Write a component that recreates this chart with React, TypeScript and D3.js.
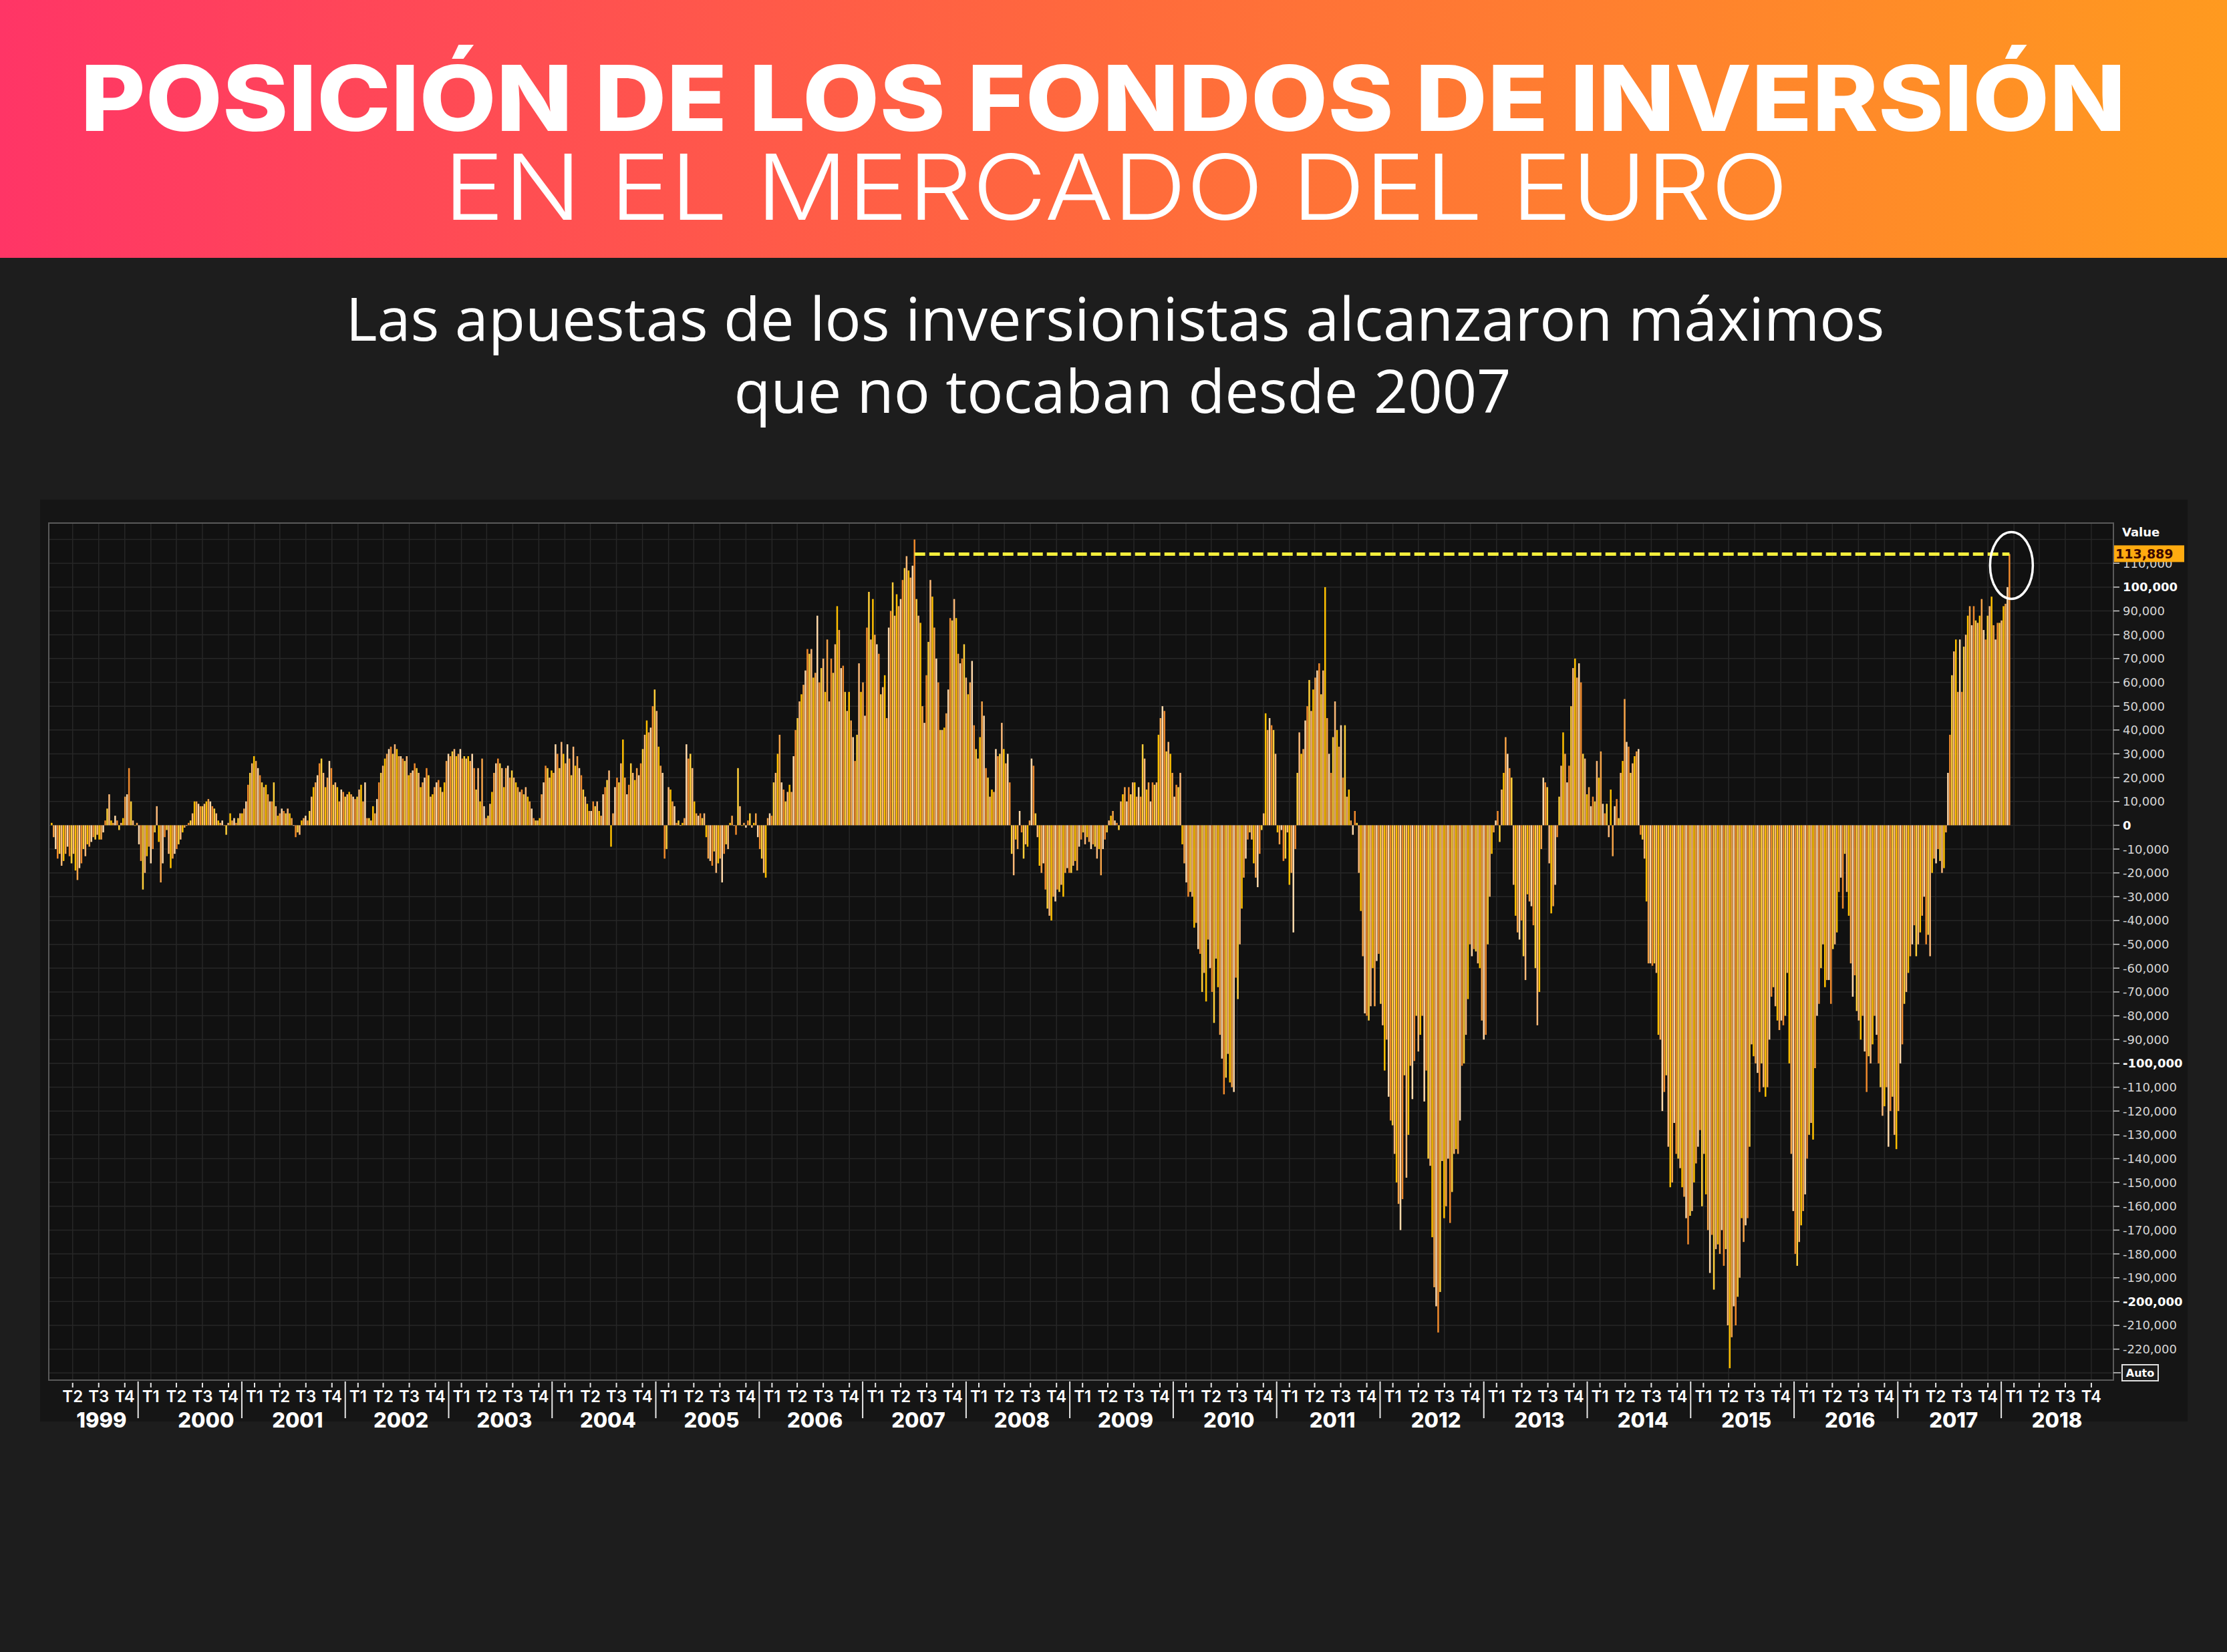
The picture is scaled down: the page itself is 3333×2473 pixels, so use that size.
import React from "react";
import * as d3 from "d3";

const W = 3333;
const H = 2473;

// weekly net positions, thousands of contracts (one value per Tuesday)
const v1999 = [1, -5, -10, -14, -12, -17, -15, -12, -9, -13, -16, -12, -19, -23, -18, -16, -10, -13, -8, -9, -7, -5, -6, -4, -6, -6, -3, 2, 7, 13, 2, 1, 4, 2, -2, 1, 3, 12, 13, 24, 10, 2, 0, 1];
const v2000 = [-8, -15, -27, -20, -13, -9, -16, -10, -3, 8, -7, -24, -16, -5, -2, -12, -18, -14, -12, -10, -8, -6, -3, -1, 0, 1, 2, 5, 10, 10, 9, 8, 8, 9, 10, 11, 10, 8, 7, 5, 2, 1, 2, 0, -4, 1, 5, 2, 3, 1, 3, 5];
const v2001 = [5, 7, 10, 17, 22, 26, 29, 27, 24, 21, 18, 16, 17, 13, 10, 10, 18, 8, 4, 5, 7, 6, 5, 7, 5, 3, 0, -5, -3, -4, 2, 3, 4, 2, 6, 12, 16, 18, 21, 26, 28, 22, 16, 20, 27, 24, 17, 18, 16, 10, 15, 14];
const v2002 = [12, 13, 14, 13, 12, 11, 12, 15, 17, 10, 18, 3, 3, 2, 8, 5, 11, 18, 22, 25, 28, 30, 32, 33, 30, 34, 32, 29, 29, 28, 27, 29, 21, 22, 23, 26, 24, 22, 16, 18, 20, 24, 21, 12, 13, 16, 18, 19, 16, 14, 18, 27, 30];
const v2003 = [29, 31, 32, 29, 30, 32, 28, 29, 28, 29, 27, 30, 24, 15, 24, 10, 28, 8, 3, 4, 9, 14, 22, 26, 28, 26, 24, 16, 24, 25, 20, 23, 20, 18, 16, 14, 15, 13, 16, 12, 10, 7, 3, 2, 2, 3, 13, 18, 25, 24, 20, 23];
const v2004 = [22, 34, 30, 24, 35, 30, 26, 34, 28, 21, 33, 25, 29, 24, 21, 15, 12, 9, 6, 6, 10, 8, 10, 6, 4, 13, 16, 19, 23, -9, 5, 16, 20, 18, 26, 36, 20, 13, 17, 26, 22, 19, 24, 21, 26, 32, 38, 44, 39, 41, 50, 57];
const v2005 = [48, 33, 25, 22, -14, -10, 16, 15, 10, 8, 1, 2, 0, 1, 3, 34, 28, 30, 24, 10, 5, 4, 5, 3, 5, -5, -14, -15, -17, -11, -20, -16, -14, -24, -12, -8, -10, 1, 4, 0, -4, 24, 8, 0, 1, -1, 2, 5, -1, 1, 5, -5];
const v2006 = [-10, -14, -20, -22, 3, 5, 4, 18, 22, 30, 38, 18, 15, 10, 14, 17, 14, 29, 40, 45, 52, 55, 59, 65, 74, 72, 74, 62, 64, 88, 60, 66, 70, 56, 78, 52, 70, 64, 76, 92, 82, 66, 67, 56, 48, 56, 44, 37, 27, 38, 68, 56];
const v2007 = [60, 46, 83, 98, 78, 95, 80, 76, 72, 55, 58, 63, 45, 83, 90, 102, 88, 97, 92, 95, 103, 108, 113, 107, 104, 109, 120, 95, 88, 85, 50, 43, 63, 77, 103, 96, 83, 70, 60, 40, 40, 41, 47, 57, 87, 86, 95, 87, 72, 68, 70, 76];
const v2008 = [62, 55, 60, 69, 42, 32, 28, 37, 52, 46, 24, 20, 12, 15, 14, 32, 29, 30, 43, 32, 26, 30, 18, -12, -21, -6, -10, 6, -3, -14, -8, -9, 2, 28, 25, 5, -5, -17, -20, -16, -27, -35, -38, -40, -30, -32, -27, -28, -25, -30, -20, -18, -20];
const v2009 = [-20, -17, -15, -19, -9, -6, -3, -8, -5, -7, -10, -8, -9, -14, -10, -21, -10, -6, -3, 2, 4, 6, 2, 1, -2, 10, 13, 16, 10, 16, 13, 18, 18, 12, 16, 12, 34, 28, 15, 18, 10, 18, 17, 18, 38, 45, 50, 48, 31, 35, 30, 22];
const v2010 = [12, 17, 16, 22, -8, -16, -24, -30, -28, -30, -43, -41, -52, -54, -70, -62, -74, -48, -60, -70, -83, -56, -68, -88, -98, -113, -106, -96, -108, -110, -112, -64, -73, -50, -35, -22, -14, -6, -3, -6, -16, -22, -26, -12, -2, 5, 47, 40, 45, 42, 40, 30];
const v2011 = [-3, -8, -2, -15, -14, -3, -25, -20, -45, -10, 22, 39, 30, 32, 44, 50, 61, 48, 57, 62, 65, 68, 55, 65, 100, 45, 30, 22, 37, 52, 40, 33, 42, 20, 42, 12, 15, 2, -4, 6, 1, -20, -36, -55, -79, -80, -82, -76, -60, -76, -57, -54];
const v2012 = [-75, -84, -103, -90, -114, -124, -126, -138, -150, -159, -170, -157, -105, -148, -130, -101, -115, -99, -80, -95, -88, -80, -116, -103, -140, -143, -173, -194, -202, -213, -196, -141, -165, -160, -140, -167, -154, -138, -136, -138, -124, -101, -100, -88, -73, -50, -55, -52, -53, -58, -60, -82];
const v2013 = [-90, -88, -50, -30, -12, -3, 2, 6, -7, 15, 22, 37, 30, 24, 20, -25, -38, -45, -48, -40, -55, -65, -29, -32, -34, -42, -60, -84, -70, -10, 20, 18, 16, -16, -37, -34, -25, -5, 12, 25, 39, 30, 18, 25, 50, 66, 70, 62, 68, 60, 30, 28, 13];
const v2014 = [16, 8, 12, 10, 27, 20, 31, 9, 5, 9, -5, 15, -13, 8, 11, 3, 22, 27, 53, 35, 33, 22, 26, 29, 31, 32, -4, -6, -14, -32, -58, -58, -59, -58, -62, -88, -90, -120, -112, -105, -135, -152, -150, -125, -138, -140, -144, -152, -156, -165, -176, -164];
const v2015 = [-162, -150, -142, -135, -128, -160, -138, -155, -170, -188, -172, -195, -178, -176, -180, -170, -185, -178, -210, -228, -215, -202, -210, -198, -190, -165, -175, -168, -165, -135, -92, -97, -100, -104, -112, -100, -110, -114, -110, -90, -72, -68, -76, -82, -86, -82, -84, -80, -62, -100, -138, -162];
const v2016 = [-180, -185, -175, -168, -162, -155, -140, -130, -125, -132, -102, -80, -75, -60, -50, -68, -65, -65, -75, -52, -50, -45, -28, -22, -35, -12, -28, -38, -58, -72, -63, -78, -82, -90, -80, -95, -112, -97, -100, -92, -80, -88, -100, -110, -122, -118, -110, -135, -120, -114, -130, -136];
const v2017 = [-120, -100, -92, -75, -70, -62, -55, -50, -42, -55, -50, -45, -38, -30, -50, -46, -55, -20, -14, -16, -10, -15, -20, -18, -3, 22, 38, 63, 73, 78, 56, 78, 56, 75, 80, 88, 92, 84, 92, 86, 85, 88, 95, 82, 78, 88, 92, 96, 84, 78, 85, 85];
const v2018 = [86, 92, 93, 100, 113.889];

const yearly: [number, number[]][] = [
  [1999, v1999], [2000, v2000], [2001, v2001], [2002, v2002], [2003, v2003],
  [2004, v2004], [2005, v2005], [2006, v2006], [2007, v2007], [2008, v2008],
  [2009, v2009], [2010, v2010], [2011, v2011], [2012, v2012], [2013, v2013],
  [2014, v2014], [2015, v2015], [2016, v2016], [2017, v2017], [2018, v2018],
];

const years = d3.range(1999, 2019);
const quarterLabels = ["T1", "T2", "T3", "T4"];
const yTicks = d3.range(-220000, 110001, 10000);
const boldTicks = [0, 100000, -100000, -200000];
const lastValue = 113889;
const peakDate = new Date(2007, 6, 3);
const barColors = ["#ffc000", "#f7a448", "#ffd9aa", "#f08a2c", "#ffcf3a", "#fbb978"];

type Pt = { date: Date; value: number };

function buildSeries(): Pt[] {
  const out: Pt[] = [];
  yearly.forEach(([yr, vals]) => {
    const start = yr === 1999 ? new Date(1999, 2, 1) : new Date(yr, 0, 1);
    const days = d3.timeTuesday.range(start, new Date(yr + 1, 0, 1));
    vals.forEach((v, i) => {
      if (days[i]) out.push({ date: days[i], value: v * 1000 });
    });
  });
  return out;
}

const fmt = (v: number) => (v < 0 ? "-" : "") + d3.format(",")(Math.abs(v));

export default function App() {
  const series = buildSeries();
  const plot = { left: 73, right: 3163, top: 783, bottom: 2066 };

  const x = d3
    .scaleTime()
    .domain([new Date(1999, 0, 1), new Date(2019, 0, 1)])
    .range([51.9, 3149.9]);
  const y = d3.scaleLinear().domain([-233000, 126900]).range([plot.bottom, plot.top]);

  const quarters: { x: number; label: string }[] = [];
  years.forEach((yr) => {
    quarterLabels.forEach((lab, q) => {
      const px = x(new Date(yr, q * 3 + 1, 15));
      if (px > plot.left + 5 && px < plot.right) quarters.push({ x: px, label: lab });
    });
  });

  const y0 = y(0);
  const last = series[series.length - 1];
  const lineY = y(lastValue);
  const font = "Inter, 'DejaVu Sans', sans-serif";
  const axisFont = "'DejaVu Sans', Verdana, sans-serif";

  return (
    <svg
      width={W}
      height={H}
      style={{ position: "absolute", left: 0, top: 0, display: "block" }}
    >
      <defs>
        <linearGradient id="hdr" x1="0" x2="1" y1="0" y2="0">
          <stop offset="0%" stopColor="#ff3566" />
          <stop offset="50%" stopColor="#ff6a3c" />
          <stop offset="100%" stopColor="#ff9a1f" />
        </linearGradient>
        <clipPath id="plotClip">
          <rect x={plot.left} y={plot.top} width={plot.right - plot.left} height={plot.bottom - plot.top} />
        </clipPath>
      </defs>

      <rect width={W} height={H} fill="#1d1d1d" />
      <rect width={W} height={386} fill="url(#hdr)" />

      <text x={1651} y={196} textAnchor="middle" fill="#fff" fontFamily={font} fontWeight={800}
        fontSize={136} textLength={3061} lengthAdjust="spacingAndGlyphs">
        POSICIÓN DE LOS FONDOS DE INVERSIÓN
      </text>
      <text x={1670} y={329} textAnchor="middle" fill="#fff" fontFamily={font} fontWeight={300}
        fontSize={136} textLength={2012} lengthAdjust="spacingAndGlyphs">
        EN EL MERCADO DEL EURO
      </text>

      <text x={1669} y={510} textAnchor="middle" fill="#fff" fontFamily="'Open Sans', sans-serif" fontSize={90}>
        Las apuestas de los inversionistas alcanzaron máximos
      </text>
      <text x={1680} y={618} textAnchor="middle" fill="#fff" fontFamily="'Open Sans', sans-serif" fontSize={90}>
        que no tocaban desde 2007
      </text>

      {/* chart panel */}
      <rect x={60} y={748} width={3214} height={1380} fill="#151515" />
      <rect x={plot.left} y={plot.top} width={plot.right - plot.left} height={plot.bottom - plot.top} fill="#111111" />

      <g stroke="#272727" strokeWidth={1.5}>
        {d3.range(-230000, 126000, 10000).map((t) => (
          <line key={"h" + t} x1={plot.left} x2={plot.right} y1={y(t)} y2={y(t)} />
        ))}
        {quarters.map((q, i) => (
          <line key={"v" + i} x1={q.x} x2={q.x} y1={plot.top} y2={plot.bottom} />
        ))}
      </g>

      <g clipPath="url(#plotClip)">
        {series.map((d, i) => {
          const yv = y(d.value);
          return (
            <rect
              key={i}
              x={x(d.date) - 1.25}
              width={2.5}
              y={Math.min(yv, y0)}
              height={Math.max(0.8, Math.abs(yv - y0))}
              fill={barColors[i % barColors.length]}
            />
          );
        })}
      </g>

      <rect x={plot.left} y={plot.top} width={plot.right - plot.left} height={plot.bottom - plot.top}
        fill="none" stroke="#5a5a5a" strokeWidth={2} />

      {/* max line and highlight */}
      <line x1={x(peakDate)} x2={x(last.date)} y1={lineY} y2={lineY} stroke="#f3ee3c"
        strokeWidth={5} strokeDasharray="16 6" />
      <ellipse cx={x(last.date) + 3} cy={lineY + 17} rx={32} ry={50} fill="none" stroke="#fff" strokeWidth={3.5} />

      {/* right axis */}
      <text x={3176} y={803} fill="#fff" fontFamily={axisFont} fontWeight="bold" fontSize={18}>Value</text>
      {yTicks.map((t) => {
        const b = boldTicks.includes(t);
        return (
          <g key={"t" + t}>
            <line x1={plot.right} x2={plot.right + 9} y1={y(t)} y2={y(t)} stroke="#cfcfcf" strokeWidth={1.5} />
            <text x={3177} y={y(t)} dy="0.36em" fill={b ? "#ffffff" : "#d6d6d6"} fontFamily={axisFont}
              fontWeight={b ? "bold" : "normal"} fontSize={18}>
              {fmt(t)}
            </text>
          </g>
        );
      })}
      <rect x={3164} y={lineY - 13} width={105} height={25} fill="#ffab10" />
      <text x={3166} y={lineY} dy="0.36em" fill="#3a0800" fontFamily={axisFont} fontWeight="bold" fontSize={19}>
        {d3.format(",")(lastValue)}
      </text>
      <line x1={plot.right} x2={plot.right + 11} y1={2055} y2={2055} stroke="#cfcfcf" strokeWidth={1.5} />
      <rect x={3176} y={2043} width={54} height={24} fill="#1b1b1b" stroke="#e0e0e0" strokeWidth={2} />
      <text x={3203} y={2055} dy="0.36em" textAnchor="middle" fill="#fff" fontFamily={axisFont}
        fontWeight="bold" fontSize={16}>Auto</text>

      {/* bottom axis */}
      <g>
        {quarters.map((q, i) => (
          <g key={"q" + i}>
            <line x1={q.x} x2={q.x} y1={2070} y2={2077} stroke="#e8e8e8" strokeWidth={2} />
            <text x={q.x} y={2099} textAnchor="middle" fill="#fff" fontFamily={font} fontWeight={600} fontSize={24}>
              {q.label}
            </text>
          </g>
        ))}
        {years.slice(1).map((yr) => (
          <line key={"s" + yr} x1={x(new Date(yr, 0, 1))} x2={x(new Date(yr, 0, 1))} y1={2068} y2={2123}
            stroke="#e8e8e8" strokeWidth={2} />
        ))}
        {years.map((yr) => {
          const a = Math.max(x(new Date(yr, 0, 1)), plot.left);
          const b = x(new Date(yr + 1, 0, 1));
          const shift = yr === 1999 ? 12 : yr === 2000 ? 24 : 6;
          return (
            <text key={"y" + yr} x={(a + b) / 2 + shift} y={2137} textAnchor="middle" fill="#fff" fontFamily={font}
              fontWeight={800} fontSize={31}>
              {yr}
            </text>
          );
        })}
      </g>
    </svg>
  );
}
